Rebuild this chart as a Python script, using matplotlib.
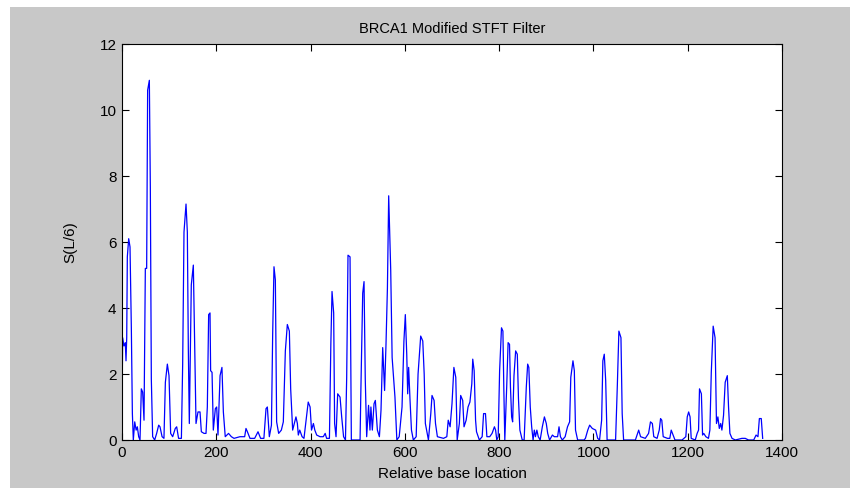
import matplotlib

matplotlib.use("Agg")
import matplotlib.pyplot as plt
from matplotlib.patches import Rectangle

plt.rcParams.update({
    "font.family": ["Liberation Sans", "DejaVu Sans"],
    "font.size": 11,
})

# ── Данные ──
base_pos = [
    0, 1.4, 4.2, 7, 8.5, 10, 11.3, 14.2, 17, 19.8, 22, 24, 27, 30, 32.5, 35.4, 38.2, 41, 43.8, 46.7,
    49.5, 52.3, 54.4, 58, 60.1, 62.2, 65, 69.3, 73.5, 77.8, 80.6, 85, 89, 92, 96.2, 99.7, 103.2, 107.5,
    113, 116, 120, 126, 128.7, 131.5, 135.8, 138.6, 140.7, 142.8, 147, 151.3, 154.2, 157, 161.2, 165.5,
    168.3, 174, 178.2, 181, 183.8, 186.7, 188, 191, 193.7, 198, 200.8, 203.6, 208, 212, 215, 219, 226,
    232, 237.6, 250.3, 260.2, 263, 266, 271.5, 281.4, 288.5, 294, 301, 305.5, 308.3, 312.5, 317, 319.6,
    322.4, 325.3, 328, 332.3, 338, 342.2, 346.5, 350.7, 355, 357.8,
    362, 369, 372, 374, 377, 382, 386, 395, 399, 402, 406, 409, 413, 420, 427, 431, 434, 440, 443,
    445.5, 449, 451, 454, 457.5, 462.5, 466, 470, 474, 476.6, 479.4, 483.7, 486.5, 491, 498, 505, 506.5,
    510.6, 513.4, 516, 519, 523, 526, 528, 531, 534.6, 537.4, 541.7, 546, 549.4, 553, 557, 560, 563,
    565.7, 570, 573, 579, 583, 588, 594, 598, 601, 604, 606, 608, 611, 614, 618, 624, 628, 633.6, 638,
    641, 643.5, 650, 655, 657.6, 662, 665, 669, 682, 689, 692, 696, 700, 704, 708, 711, 715.6, 718.4,
    722.7, 725.5, 730, 734, 738, 742, 744, 747, 750,
    752, 758, 764, 767, 771, 774, 780, 785, 790, 792.5, 795, 798, 801, 805, 808, 810, 812, 816, 819, 822,
    824, 826.5, 828.6, 831.5, 835, 838.5, 841, 844, 849, 853, 857.6, 860.5, 863, 866, 869, 872, 874.6,
    877, 880, 883, 887, 891.6, 896, 900, 903, 907, 913, 917, 924, 927, 930, 934, 940, 945, 949.5, 952,
    956.6, 959.5, 962, 966.5, 980, 983, 988, 992, 997.6, 1004.7, 1009, 1013, 1017.4, 1020, 1023, 1026,
    1029, 1047, 1050.7, 1054, 1058.4, 1061, 1064, 1089,
    1096, 1100, 1110, 1117, 1121, 1125, 1128, 1135, 1139.6, 1142.4, 1145, 1148, 1157, 1162, 1165, 1169,
    1173, 1188, 1196, 1199, 1202, 1205, 1207.4, 1216, 1220, 1223, 1225, 1229, 1231.5, 1234, 1238.5, 1244,
    1247, 1250, 1254, 1258, 1261, 1264, 1267, 1270, 1272.5, 1276, 1279.5, 1284, 1286.6, 1289.5, 1294,
    1301, 1315, 1322, 1329, 1340, 1345, 1349, 1352, 1356, 1359,
]
s_val = [
    1.0, 3.1, 2.85, 2.95, 2.4, 3.1, 5.55, 6.1, 5.85, 3.4, 0.8, 0.0, 0.55, 0.3, 0.4, 0.1, 0.0, 1.55, 1.45, 0.6,
    5.2, 5.2, 10.6, 10.9, 7.65, 1.85, 0.1, 0.0, 0.2, 0.45, 0.4, 0.1, 0.05, 1.75, 2.3, 1.95, 0.2, 0.1,
    0.35, 0.4, 0.05, 0.05, 2.3, 6.3, 7.15, 6.3, 2.75, 0.5, 4.7, 5.3, 2.9, 0.5, 0.85, 0.85,
    0.25, 0.2, 0.2, 1.0, 3.8, 3.85, 2.1, 2.05, 0.3, 0.95, 1.0, 0.15, 1.95, 2.2, 0.85, 0.1, 0.2,
    0.1, 0.05, 0.1, 0.1, 0.35, 0.25, 0.05, 0.05, 0.25, 0.05, 0.05, 0.95, 1.0, 0.1, 0.45, 3.2,
    5.25, 4.85, 0.55, 0.2, 0.3, 0.55, 2.7, 3.5, 3.3, 1.55,
    0.3, 0.7, 0.5, 0.15, 0.3, 0.1, 0.05, 1.15, 1.0, 0.3, 0.5, 0.3, 0.15, 0.1, 0.1, 0.2, 0.05, 0.05, 2.9,
    4.5, 3.85, 0.5, 0.1, 1.4, 1.3, 0.7, 0.1, 0.0, 1.9, 5.6, 5.55, 0.0, 0.0, 0.0, 0.0, 1.35,
    4.45, 4.8, 1.85, 0.1, 1.05, 0.3, 1.0, 0.3, 1.1, 1.2, 0.3, 0.1, 0.9, 2.8, 1.5, 2.9, 4.6,
    7.4, 5.15, 2.5, 1.3, 0.0, 0.1, 1.0, 3.0, 3.8, 2.6, 1.4, 2.2, 1.2, 0.3, 0.0, 0.1, 2.0, 3.15, 3.0,
    2.0, 0.5, 0.0, 0.8, 1.35, 1.2, 0.5, 0.1, 0.05, 0.1, 0.6, 0.4, 1.1, 2.2, 1.9, 0.0, 0.5, 1.35,
    1.2, 0.4, 0.6, 1.0, 1.15, 1.7, 2.45, 2.1, 0.6,
    0.25, 0.0, 0.1, 0.8, 0.8, 0.1, 0.1, 0.2, 0.4, 0.3, 0.0, 0.1, 2.1, 3.4, 3.3, 1.5, 0.0, 1.6, 2.95, 2.9,
    1.6, 0.7, 0.55, 1.95, 2.7, 2.6, 1.25, 0.3, 0.0, 0.0, 1.6, 2.3, 2.2, 1.0, 0.4, 0.0, 0.3,
    0.1, 0.3, 0.1, 0.0, 0.4, 0.7, 0.5, 0.2, 0.0, 0.15, 0.1, 0.1, 0.4, 0.1, 0.0, 0.1, 0.4, 0.55, 1.9,
    2.4, 2.1, 0.3, 0.0, 0.0, 0.05, 0.3, 0.45, 0.35, 0.3, 0.05, 0.0, 0.6, 2.4, 2.6, 1.8,
    0.0, 0.0, 1.65, 3.3, 3.1, 0.8, 0.0, 0.0,
    0.3, 0.1, 0.05, 0.2, 0.55, 0.5, 0.1, 0.05, 0.3, 0.65, 0.6, 0.1, 0.05, 0.05, 0.3, 0.15,
    0.0, 0.0, 0.1, 0.7, 0.85, 0.7, 0.05, 0.0, 0.2, 0.3, 1.55, 1.4, 0.15, 0.2, 0.1, 0.05,
    0.3, 2.05, 3.45, 3.1, 0.5, 0.7, 0.35, 0.5, 0.3, 0.75, 1.75, 1.95, 1.0, 0.2, 0.05,
    0.0, 0.05, 0.05, 0.0, 0.0, 0.15, 0.1, 0.65, 0.65, 0.05,
]

fig = plt.figure(figsize=(8.5, 4.88), dpi=100, facecolor="white")
# серый фон окна MATLAB с белой полосой сверху и слева
fig.patches.append(Rectangle((10 / 850, 0), 1, 1 - 7 / 488, transform=fig.transFigure,
                             facecolor="#c8c8c8", edgecolor="none", zorder=-1))

ax = fig.add_axes([122 / 850, 48 / 488, 660 / 850, 396 / 488])
ax.set_facecolor("white")
ax.plot(base_pos, s_val, color="#0000ff", linewidth=0.9)

ax.set_xlim(0, 1400)
ax.set_ylim(0, 12)
ax.set_xticks(range(0, 1401, 200))
ax.set_yticks(range(0, 13, 2))
ax.tick_params(direction="in", length=5, width=0.8, top=True, right=True, labelsize=11, pad=4)
for sp in ax.spines.values():
    sp.set_linewidth(0.8)

ax.set_title("BRCA1 Modified STFT Filter", fontsize=10.5, pad=8)
ax.set_xlabel("Relative base location", fontsize=11, labelpad=5)
ax.set_ylabel("S(L/6)", fontsize=11, labelpad=16)

fig.savefig("out.png", dpi=100, facecolor=fig.get_facecolor())
plt.close(fig)
